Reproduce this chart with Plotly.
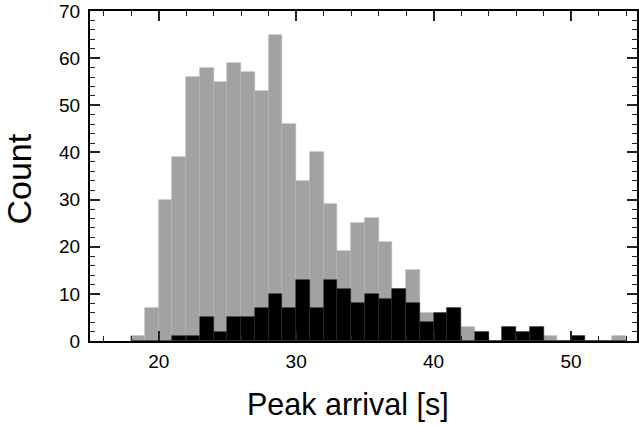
import plotly.graph_objects as go

# Histogram bins (left edges, width 1 s)
bin_left = list(range(18, 54))
all_counts = [1, 7, 30, 39, 56, 58, 55, 59, 57, 53, 65, 46, 34, 40, 29, 19, 25, 26,
              21, 11, 15, 6, 6, 7, 3, 2, 0, 3, 2, 3, 1, 0, 1, 0, 0, 1]
subset_counts = [0, 0, 0, 1, 1, 5, 2, 5, 5, 7, 10, 7, 13, 7, 13, 11, 8, 10,
                 9, 11, 8, 4, 6, 7, 0, 2, 0, 3, 2, 3, 0, 0, 1, 0, 0, 0]
x_tickvals = [20, 30, 40, 50]
y_tickvals = [0, 10, 20, 30, 40, 50, 60, 70]

centers = [b + 0.5 for b in bin_left]

fig = go.Figure()
fig.add_trace(go.Bar(x=centers, y=all_counts, width=1, marker_color="#a2a2a2",
                     marker_line_color="#b4b4b4", marker_line_width=0.6, showlegend=False))
fig.add_trace(go.Bar(x=centers, y=subset_counts, width=1, marker_color="#000000",
                     marker_line_color="#2a2a2a", marker_line_width=0.6, showlegend=False))

axis_common = dict(
    showline=True, linecolor="black", linewidth=2, mirror="allticks",
    ticks="inside", ticklen=10, tickwidth=1.5, tickcolor="#222",
    showgrid=False, zeroline=False,
    tickfont=dict(family="Liberation Sans, Arial", size=19, color="black"),
)

fig.update_layout(
    width=639, height=425,
    margin=dict(l=90, r=0, t=11, b=84),
    plot_bgcolor="white", paper_bgcolor="white",
    barmode="overlay", bargap=0,
    xaxis=dict(range=[15, 54.8], tickvals=x_tickvals, ticklabelstandoff=2,
               minor=dict(dtick=2, tick0=0, ticks="inside", ticklen=5, tickwidth=1.2, tickcolor="#222"),
               **axis_common),
    yaxis=dict(range=[0, 70], tickvals=y_tickvals, ticklabelstandoff=4,
               minor=dict(dtick=2, tick0=0, ticks="inside", ticklen=5, tickwidth=1.2, tickcolor="#222"),
               **axis_common),
    annotations=[
        dict(text="Peak arrival [s]", xref="paper", yref="paper", x=(349 - 90) / 549,
             y=(341.5 - 405) / 330.5, xanchor="center", yanchor="middle", showarrow=False,
             font=dict(family="Liberation Sans, Arial", size=30.5, color="black")),
        dict(text="Count", xref="paper", yref="paper", x=(19 - 90) / 549,
             y=(341.5 - 179.5) / 330.5, xanchor="center", yanchor="middle", showarrow=False,
             textangle=-90,
             font=dict(family="Liberation Sans, Arial", size=34, color="black")),
    ],
)

fig.write_html("out.html")
